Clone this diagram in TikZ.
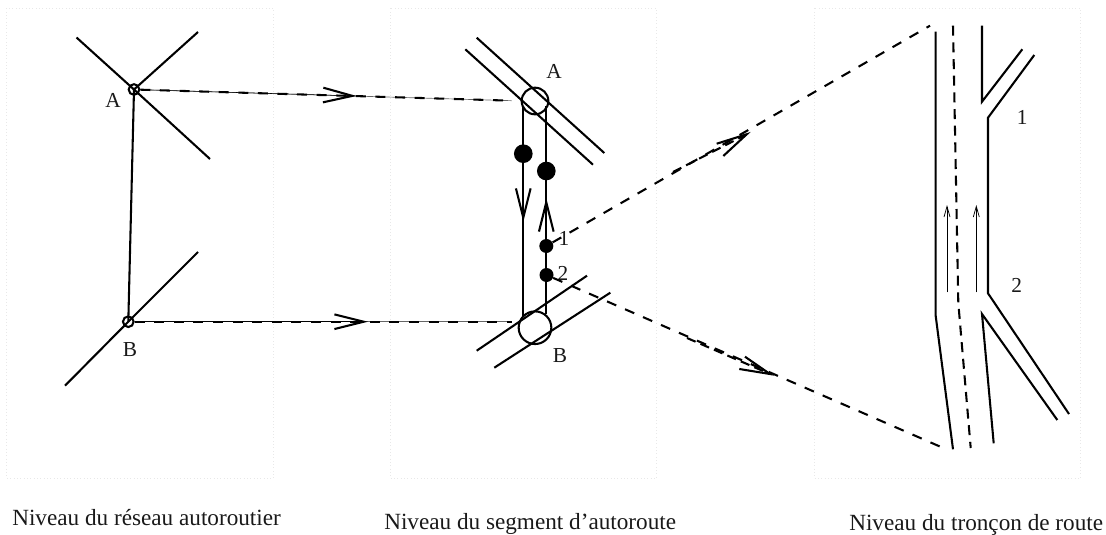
\documentclass[tikz,border=0pt]{standalone}
\usepackage{fontspec}
\setmainfont{Liberation Serif}
\usetikzlibrary{arrows.meta}
\definecolor{boxdot}{HTML}{E8E8E8}
\tikzset{
  road/.style={line width=1.55pt,line cap=butt,line join=miter},
  thinline/.style={line width=0.5pt,black!60},
  dashline/.style={line width=1.55pt,dash pattern=on 7.5pt off 7.2pt},
  laneline/.style={line width=1.55pt,dash pattern=on 7.5pt off 5pt},
  bigbarb/.style={line width=1.55pt,-{Straight Barb[length=22pt,width=11pt,line width=1.55pt]}},
  lanearrow/.style={line width=0.55pt,-{Straight Barb[length=8pt,width=4.5pt,line width=0.55pt]}},
  lab/.style={inner sep=0pt,font=\fontsize{16pt}{18pt}\selectfont,text=black!90},
  captext/.style={inner sep=0pt,anchor=base west,font=\fontsize{17.4pt}{20pt}\selectfont,text=black!90},
  nodering/.style={circle,draw,line width=1.55pt,inner sep=0pt,fill=none},
  dotnode/.style={circle,fill=black,inner sep=0pt},
  levelbox/.style={draw=boxdot,line width=0.5pt,dotted}
}
\begin{document}
\begin{tikzpicture}[x=0.75pt,y=-0.75pt]
\useasboundingbox (0,0) rectangle (1106,535);
% level frames
\draw[levelbox] (6.5,8.5) rectangle (273.5,478);
\draw[levelbox] (390,8.5) rectangle (656.5,478);
\draw[levelbox] (814,8.5) rectangle (1080.5,478);

% ---------- network level
\node[nodering,minimum size=8pt] (nA) at (134,89.5) {};
\node[nodering,minimum size=8pt] (nB) at (128.3,321.7) {};
\coordinate (a1) at (76.5,37.5);
\coordinate (a2) at (198,32);
\coordinate (a3) at (210,159);
\coordinate (b1) at (198,252);
\coordinate (b2) at (65,385.7);
\draw[road] (nA.center) -- (a1);
\draw[road] (nA.center) -- (a2);
\draw[road] (nA.center) -- (a3);
\draw[road] (nB.center) -- (b1);
\draw[road] (nB.center) -- (b2);
\draw[road] (nA.center) -- (nB.center);
\node[lab] (lA) at (113,100) {A};
\node[lab] (lB) at (130,350) {B};

% ---------- segment level
\node[nodering,minimum size=20pt] (sA) at (535,101) {};
\node[nodering,minimum size=24.5pt] (sB) at (535,327.7) {};
\coordinate (sa1) at (476.7,37.7);
\coordinate (sa2) at (604.3,153);
\coordinate (sa3) at (465.3,49.3);
\coordinate (sa4) at (593,164.7);
\coordinate (sb1) at (587,275.7);
\coordinate (sb2) at (476.7,350.7);
\coordinate (sb3) at (610.3,292.7);
\coordinate (sb4) at (494.3,367.7);
\draw[road] (sa1) -- (sa2);
\draw[road] (sa3) -- (sa4);
\draw[road] (sb1) -- (sb2);
\draw[road] (sb3) -- (sb4);
\coordinate (dtop) at (523.3,106);
\coordinate (dbot) at (523.3,316);
\coordinate (utop) at (546.3,106);
\coordinate (ubot) at (546.3,314);
\draw[road] (dtop) -- (dbot);
\draw[road] (utop) -- (ubot);
\coordinate (dtip) at (523.3,222);
\coordinate (dtail) at (523.3,195);
\coordinate (utip) at (546.3,198);
\coordinate (utail) at (546.3,228);
\draw[bigbarb] (dtail) -- (dtip);
\draw[bigbarb] (utail) -- (utip);
\node[dotnode,minimum size=14pt] (d1) at (523.3,153.7) {};
\node[dotnode,minimum size=14pt] (d2) at (546.3,171) {};
\node[dotnode,minimum size=10.5pt] (d3) at (546.3,246) {};
\node[dotnode,minimum size=10.5pt] (d4) at (546.5,275) {};
\node[lab] (sl1) at (564,238.7) {1};
\node[lab] (sl2) at (563,273) {2};
\node[lab] (slA) at (554,71) {A};
\node[lab] (slB) at (560,355.7) {B};

% ---------- connectors between levels
\coordinate (hA) at (511.7,100.7);
\coordinate (hB) at (512.3,321.7);
\coordinate (tipA) at (356.7,96);
\coordinate (tipB) at (368,321.7);
\draw[thinline] (nA) -- (hA);
\draw[dashline] (nA) -- (hA);
\draw[bigbarb,line width=0.4pt] (nA) -- (tipA);
\draw[thinline] (nB) -- (hB);
\draw[dashline] (nB) -- (hB);
\draw[bigbarb,line width=0.4pt] (nB) -- (tipB);

\coordinate (far1) at (930,25.7);
\coordinate (far2) at (941.7,447.3);
\coordinate (tip1) at (746.7,134.3);
\coordinate (tip2) at (770,374);
\coordinate (tail1) at (673,172);
\coordinate (tail2) at (687,338);
\draw[dashline] (d3) -- (far1);
\draw[dashline] (d4) -- (far2);
\draw[road,dash pattern=on 7pt off 4pt] (tail1) -- (tip1);
\draw[road,dash pattern=on 7pt off 4pt] (tail2) -- (tip2);
\coordinate (h1a) at (716.7,143.7);
\coordinate (h1b) at (723.3,156);
\coordinate (h2a) at (745,356.7);
\coordinate (h2b) at (739.3,369);
\draw[road] (h1a) -- (tip1) -- (h1b);
\draw[road] (h2a) -- (tip2) -- (h2b);

% ---------- road section level
\coordinate (r1a) at (935.7,31.7);
\coordinate (r1b) at (935.7,316);
\coordinate (r1c) at (953,449.3);
\draw[road] (r1a) -- (r1b) -- (r1c);
\coordinate (r2a) at (953,25.7);
\coordinate (r2b) at (958.3,303);
\coordinate (r2c) at (970.7,448);
\draw[laneline] (r2a) -- (r2b) -- (r2c);
\coordinate (r3a) at (982,25.7);
\coordinate (r3b) at (982,101.7);
\coordinate (r3c) at (1022.3,49.3);
\draw[road] (r3a) -- (r3b) -- (r3c);
\coordinate (r4a) at (1034.3,55);
\coordinate (r4b) at (988,117.7);
\coordinate (r4c) at (988,293.3);
\coordinate (r4d) at (1069,414);
\draw[road] (r4a) -- (r4b) -- (r4c) -- (r4d);
\coordinate (r5a) at (1057.3,420);
\coordinate (r5b) at (982,314);
\coordinate (r5c) at (993.7,443.3);
\draw[road] (r5a) -- (r5b) -- (r5c);
\coordinate (la1) at (947,292.3);
\coordinate (la2) at (947,205);
\coordinate (lb1) at (976.3,292.3);
\coordinate (lb2) at (976.3,205);
\draw[lanearrow] (la1) -- (la2);
\draw[lanearrow] (lb1) -- (lb2);
\node[lab] (rl1) at (1022.3,117) {1};
\node[lab] (rl2) at (1016.7,285.7) {2};

% ---------- captions
\node[captext] (c1) at (12,525) {Niveau du réseau autoroutier};
\node[captext] (c2) at (384,529.3) {Niveau du segment d’autoroute};
\node[captext] (c3) at (849,530.5) {Niveau du tronçon de route};
\end{tikzpicture}
\end{document}
